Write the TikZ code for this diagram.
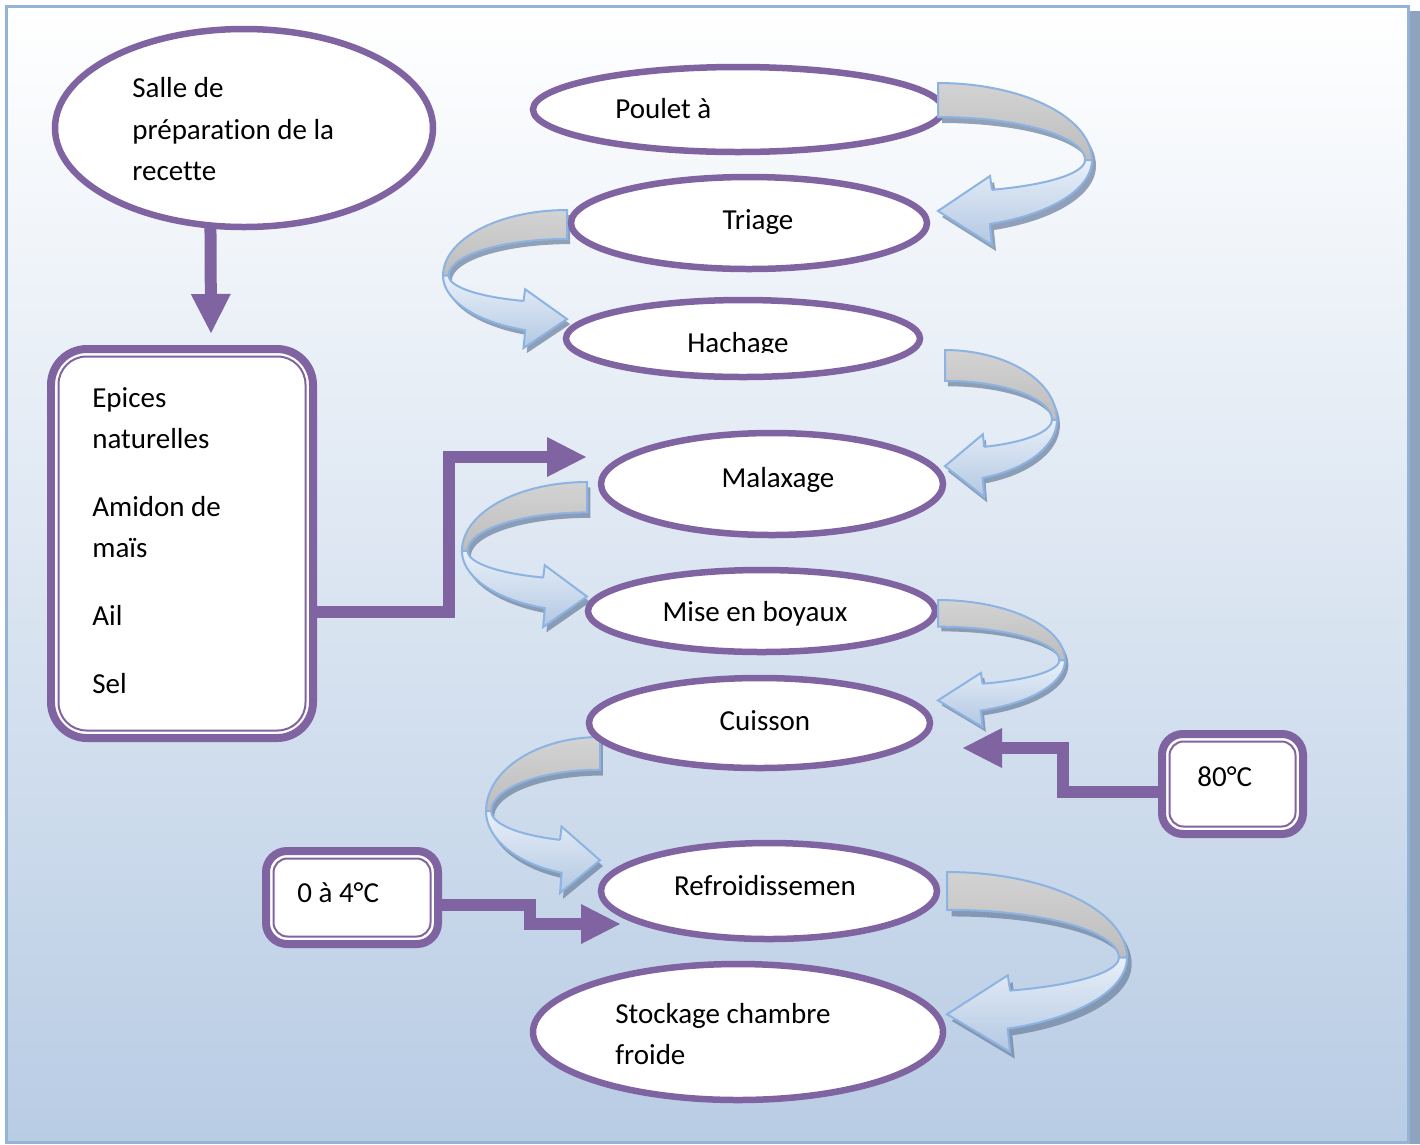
\documentclass[tikz,border=0pt]{standalone}
\usepackage{fontspec}
\setmainfont{Carlito}[Ligatures={NoCommon}]
\usetikzlibrary{shapes.geometric,arrows.meta,calc}

\definecolor{purp}{HTML}{8064A2}
\definecolor{bgblue}{HTML}{B8CCE4}
\definecolor{frameblue}{HTML}{95B3D7}
\definecolor{frameshadow}{HTML}{8EA3BE}
\definecolor{curledge}{HTML}{8DB3E2}
\definecolor{curlshade}{HTML}{7084A2}
\definecolor{curlgreytop}{HTML}{D3D3D3}
\definecolor{curlgreybot}{HTML}{BDBDBD}
\definecolor{curlbluetop}{HTML}{E9F0F9}
\definecolor{curlbluebot}{HTML}{B3C8E2}

\tikzset{
  x=0.02cm, y=-0.02cm,
  txt/.style={font=\fontsize{16.5}{20}\selectfont, inner sep=0pt, text=black},
  stage/.style 2 args={ellipse, draw=purp, line width=0.13cm, fill=white,
    inner sep=0pt, outer sep=0pt, minimum width=#1*0.02cm, minimum height=#2*0.02cm},
  panel/.style n args={3}{rectangle, draw=purp, line width=0.16cm, fill=white,
    rounded corners=#3, inner sep=0pt, outer sep=0pt,
    minimum width=#1*0.02cm, minimum height=#2*0.02cm},
  panelin/.style={draw=purp, line width=0.04cm},
  conn/.style={draw=purp, line width=0.24cm, line join=miter,
    -{Triangle[length=0.78cm, width=0.8cm, line width=0pt]}},
  % full outline of a curled ribbon arrow (U-turn with head)
  ribbon/.style={insert path={
    (0,0) -- plot[domain=0:90, samples=30, variable=\t] ({154*sin(\t)},{77-77*cos(\t)})
    -- plot[domain=0:70.3, samples=30, variable=\t] ({154*cos(\t)},{77+68*sin(\t)})
    -- (54,162) -- (0,128) -- (52,93) -- (54,107)
    -- plot[domain=68.45:0, samples=30, variable=\t] ({147*cos(\t)},{77+32*sin(\t)})
    -- plot[domain=90:0, samples=30, variable=\t] ({147*sin(\t)},{77-43*cos(\t)})
    -- cycle}},
  % back face: the band leaving the stage
  ribbonback/.style={insert path={
    (0,0) -- plot[domain=0:90, samples=30, variable=\t] ({154*sin(\t)},{77-77*cos(\t)})
    -- (147,77)
    -- plot[domain=90:0, samples=30, variable=\t] ({147*sin(\t)},{77-43*cos(\t)})
    -- cycle}},
  % front face: the band coming back, with the head
  ribbonfront/.style={insert path={
    (154,77) -- plot[domain=0:70.3, samples=30, variable=\t] ({154*cos(\t)},{77+68*sin(\t)})
    -- (54,162) -- (0,128) -- (52,93) -- (54,107)
    -- plot[domain=68.45:0, samples=30, variable=\t] ({147*cos(\t)},{77+32*sin(\t)})
    -- cycle}},
  curl/.pic={
    \fill[curlshade, opacity=0.75, shift={(#1,6)}, ribbon];
    \path[top color=curlgreytop, bottom color=curlgreybot, draw=curledge, line width=0.04cm, ribbonback];
    \path[top color=curlbluetop, bottom color=curlbluebot, draw=curledge, line width=0.04cm, ribbonfront];
  }
}

\begin{document}
\begin{tikzpicture}
\useasboundingbox (0,0) rectangle (1420,1144);
\fill[white] (0,0) rectangle (1420,1144);

% page frame with its shadow
\fill[frameshadow] (11,11) rectangle (1420,1144);
\shade[top color=white, bottom color=bgblue, draw=frameblue, line width=0.06cm]
  (6.5,6.5) rectangle (1408.5,1142.5);

% free ends of the connectors
\coordinate (ingrIn) at (211,333);
\coordinate (malaxIn) at (586,457);
\coordinate (cuisIn) at (963,748);
\coordinate (refIn) at (620,924);

% left-hand curled arrows (behind the stages)
\pic[xscale=-0.805, yscale=0.852] at (567,210) {curl=-4};
\pic[xscale=-0.812, yscale=0.895] at (587,482) {curl=-4};
\pic[xscale=-0.74, yscale=0.963] at (600,737) {curl=-4};

% stages
\node[stage={378}{198}] (salle) at (244,128) {};
\node[stage={410}{85}] (poulet) at (738,109.5) {};
\node[stage={356}{92}] (triage) at (749,223) {};
\node[stage={354}{77}] (hachage) at (743,338.5) {};
\node[stage={342}{102}] (malax) at (772,484) {};
\node[stage={347}{82}] (mise) at (761.5,611) {};
\node[stage={341}{90}] (cuisson) at (759.5,723) {};
\node[stage={336}{96}] (refroid) at (769,891) {};
\node[stage={410}{136}] (stock) at (738,1032) {};

% connectors
\draw[conn] (salle.251) -- (ingrIn);
\draw[conn] (1160,792) -| (1063,748) -- (cuisIn);
\draw[conn] (440,905) -| (530,924) -- (refIn);
\draw[conn] (315,612) -| (449,457) -- (malaxIn);

% ingredient and temperature boxes
\node[panel={262}{389}{0.72cm}] (ingr) at (182,543.5) {};
\draw[panelin, rounded corners=0.56cm] ($(ingr.north west)+(7.5,7.5)$) rectangle ($(ingr.south east)+(-7.5,-7.5)$);
\node[panel={141}{100}{0.42cm}] (box80) at (1232.5,784) {};
\draw[panelin, rounded corners=0.28cm] ($(box80.north west)+(7.5,7.5)$) rectangle ($(box80.south east)+(-7.5,-7.5)$);
\node[panel={172}{93}{0.42cm}] (box04) at (352,897.5) {};
\draw[panelin, rounded corners=0.28cm] ($(box04.north west)+(7.5,7.5)$) rectangle ($(box04.south east)+(-7.5,-7.5)$);

% right-hand curled arrows (in front of the stages)
\pic at (938,83) {curl=4};
\pic[xscale=0.727, yscale=0.907] at (945,350) {curl=4};
\pic[xscale=0.825, yscale=0.784] at (938,600) {curl=4};
\pic[xscale=1.169, yscale=1.111] at (947,872) {curl=4};

% texts
\node[txt, anchor=base west] (salle1) at (132,97) {Salle de};
\node[txt, anchor=base west] (salle2) at (132,139) {préparation de la};
\node[txt, anchor=base west] (salle3) at (132,180) {recette};

\node[txt, anchor=base west] (ing1) at (92,407) {Epices};
\node[txt, anchor=base west] (ing2) at (92,448) {naturelles};
\node[txt, anchor=base west] (ing3) at (92,516) {Amidon de};
\node[txt, anchor=base west] (ing4) at (92,557) {maïs};
\node[txt, anchor=base west] (ing5) at (92,625) {Ail};
\node[txt, anchor=base west] (ing6) at (92,693) {Sel};

\node[txt, anchor=base west] (pouletT) at (615,118) {Poulet à};
\node[txt, anchor=base] (triageT) at (758,229) {Triage};
\begin{scope}
  \clip (560,300) rectangle (930,352.5);
  \node[txt, anchor=base] (hachageT) at (738,352) {Hachage};
\end{scope}
\node[txt, anchor=base] (malaxT) at (778,487) {Malaxage};
\node[txt, anchor=base] (miseT) at (755,621) {Mise en boyaux};
\node[txt, anchor=base] (cuissonT) at (765,730) {Cuisson};
\node[txt, anchor=base] (refroidT) at (765,895) {Refroidissemen};
\node[txt, anchor=base west] (stock1) at (615,1023) {Stockage chambre};
\node[txt, anchor=base west] (stock2) at (615,1064) {froide};

\node[txt, anchor=base west] (t80) at (1197,786) {80°C};
\node[txt, anchor=base west] (t04) at (297,902) {0 à 4°C};
\end{tikzpicture}
\end{document}
